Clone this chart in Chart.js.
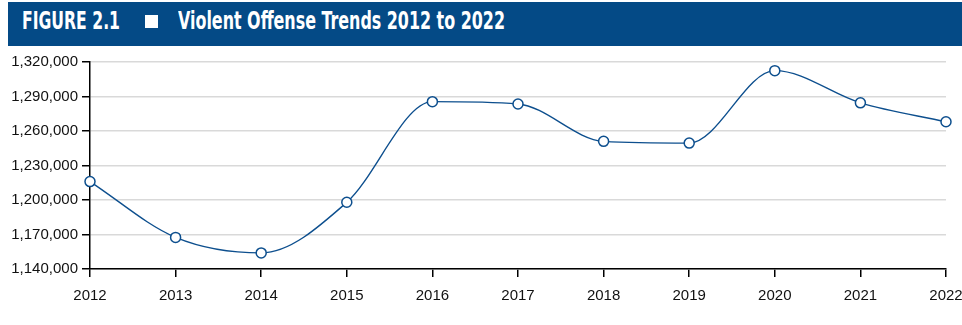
<!DOCTYPE html>
<html>
<head>
<meta charset="utf-8">
<script src="https://cdn.jsdelivr.net/npm/chart.js@4/dist/chart.umd.min.js"></script>
<style>
  html, body { margin: 0; padding: 0; background: #fff; }
  body { width: 962px; height: 325px; position: relative; overflow: hidden; }
  #bar { position: absolute; left: 8px; top: 2px; width: 954px; height: 44px; background: #044a86; }
  .tt { position: absolute; top: 7px; color: #fff; font-family: "Liberation Sans Narrow", "DejaVu Sans Condensed", "Liberation Sans", sans-serif; font-weight: bold; font-size: 24px; line-height: 28px; white-space: nowrap; }
  #sq { position: absolute; left: 145px; top: 15px; width: 13px; height: 13px; background: #fff; }
  #wrap { position: absolute; left: 0; top: 0; width: 962px; height: 325px; }
</style>
</head>
<body>
<div id="wrap"><canvas id="c" width="962" height="325"></canvas></div>
<div id="bar"></div>
<div class="tt" id="t1" style="left:22px">FIGURE 2.1</div>
<div id="sq"></div>
<div class="tt" id="t2" style="left:178px">Violent Offense Trends 2012 to 2022</div>
<script>
const years = ["2012","2013","2014","2015","2016","2017","2018","2019","2020","2021","2022"];
const violentOffenses = [1216000, 1167500, 1154000, 1198000, 1285500, 1283500, 1251000, 1249500, 1312500, 1284500, 1268000];
const yTicks = [1140000, 1170000, 1200000, 1230000, 1260000, 1290000, 1320000];

function fit(id, w) {
  const el = document.getElementById(id);
  const cw = el.getBoundingClientRect().width;
  el.style.transformOrigin = "0 0";
  el.style.transform = "scaleX(" + (w / cw) + ")";
}
fit("t1", 98);
fit("t2", 327);

const blue = "#0d4f8e";
new Chart(document.getElementById("c"), {
  type: "line",
  data: {
    labels: years,
    datasets: [{
      data: violentOffenses,
      borderColor: blue,
      borderWidth: 1.4,
      cubicInterpolationMode: "monotone",
      pointRadius: 5,
      pointBorderWidth: 1.5,
      pointBackgroundColor: "#fff",
      pointBorderColor: blue,
      clip: false,
      fill: false
    }]
  },
  options: {
    responsive: false,
    animation: false,
    events: [],
    layout: { padding: { left: 0, right: 16, top: 62, bottom: 0 } },
    plugins: { legend: { display: false }, tooltip: { enabled: false }, title: { display: false } },
    scales: {
      x: {
        type: "category",
        offset: false,
        afterFit: s => { s.height = 56; s.paddingLeft = 0; s.paddingRight = 0; },
        grid: { drawOnChartArea: false, drawTicks: true, tickLength: 8, tickColor: "#000", lineWidth: 1.5 },
        border: { color: "#000", width: 1.5 },
        ticks: { color: "#111", font: { family: "Liberation Sans, Arial, sans-serif", size: 15 }, padding: 10, maxRotation: 0, autoSkip: false }
      },
      y: {
        min: 1140000,
        max: 1320000,
        afterFit: s => { s.width = 90; s.paddingTop = 0; s.paddingBottom = 0; },
        afterBuildTicks: s => { s.ticks = yTicks.map(v => ({ value: v })); },
        grid: { color: "#d9d9d9", lineWidth: 1.5, drawTicks: true, tickLength: 8, tickColor: "#000" },
        border: { color: "#000", width: 1.5 },
        ticks: {
          color: "#111",
          font: { family: "Liberation Sans, Arial, sans-serif", size: 15 },
          padding: 4,
          callback: v => v.toLocaleString("en-US")
        }
      }
    }
  }
});
</script>
</body>
</html>
